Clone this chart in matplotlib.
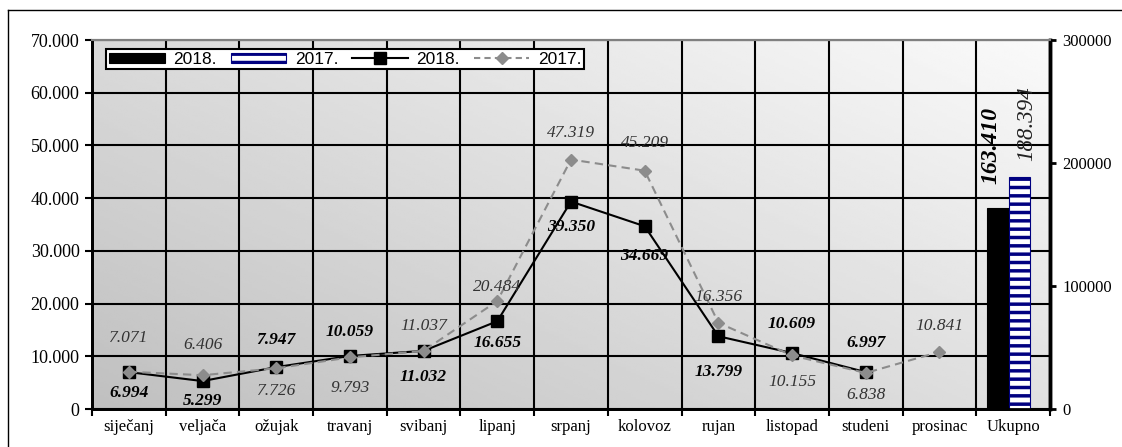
import numpy as np
import matplotlib
matplotlib.use('Agg')
import matplotlib.pyplot as plt
from matplotlib.lines import Line2D
from matplotlib.ticker import FuncFormatter, MultipleLocator, FixedLocator

### Data
months = ['siječanj', 'veljača', 'ožujak', 'travanj', 'svibanj', 'lipanj',
          'srpanj', 'kolovoz', 'rujan', 'listopad', 'studeni', 'prosinac']
categories = months + ['Ukupno']
values_2018 = [6994, 5299, 7947, 10059, 11032, 16655, 39350, 34669, 13799, 10609, 6997]
values_2017 = [7071, 6406, 7726, 9793, 11037, 20484, 47319, 45209, 16356, 10155, 6838, 10841]
total_2018 = 163410
total_2017 = 188394

### Label placement (pixels, negative = above the point)
dy_2018 = [21, 20, -27, -24, 26, 22, 25, 30, 36, -29, -29]
dy_2017 = [-34, -30, 23, 31, -25, -14, -27, -28, -26, 27, 22, -26]

plt.rcParams['font.family'] = ['Liberation Serif', 'DejaVu Serif']
plt.rcParams['hatch.linewidth'] = 2.5

fig = plt.figure(figsize=(11.22, 4.47), dpi=100)
ax = fig.add_axes([92 / 1122, 38 / 447, 958 / 1122, 369 / 447])
ax2 = ax.twinx()

### Gradient background
gx, gy = np.meshgrid(np.linspace(0, 1, 200), np.linspace(0, 1, 200))
grad = 0.75 + 0.23 * (0.55 * gx + 0.45 * gy)
ax.imshow(grad, cmap='gray', vmin=0, vmax=1, origin='lower', aspect='auto',
          extent=[0, 1, 0, 1], transform=ax.transAxes, zorder=0)

x = np.arange(len(categories))
ax.set_xlim(-0.5, len(categories) - 0.5)
ax.set_ylim(0, 70000)
ax2.set_ylim(0, 300000)

### Lines
ax.plot(x[:len(values_2018)], values_2018, color='black', lw=1.5, marker='s',
        ms=8, zorder=4)
ax.plot(x[:len(values_2017)], values_2017, color='#8c8c8c', lw=1.5, ls=(0, (4, 2.5)),
        marker='D', ms=6.5, zorder=5)

fmt = lambda v: '{:,.0f}'.format(v).replace(',', '.')
for i, v in enumerate(values_2018):
    ax.annotate(fmt(v), (x[i], v), xytext=(0, -dy_2018[i]), textcoords='offset pixels',
                ha='center', va='center', fontsize=12.5, fontweight='bold',
                fontstyle='italic', color='black', zorder=6)
for i, v in enumerate(values_2017):
    ax.annotate(fmt(v), (x[i], v), xytext=(0, -dy_2017[i]), textcoords='offset pixels',
                ha='center', va='center', fontsize=12.5, fontstyle='italic',
                color='#333333', zorder=6)

### Total bars on the right axis
w = 0.29
xc = x[-1] - 0.06
b1 = ax2.bar(xc - w / 2, total_2018, width=w, color='black', edgecolor='black', lw=0.8)
b2 = ax2.bar(xc + w / 2, total_2017, width=w, color='white', edgecolor='#000080',
             hatch='--', lw=0.8)
ax2.annotate(fmt(total_2018), (xc - w / 2, total_2018), xytext=(-7, 24),
             textcoords='offset pixels', rotation=90, ha='center', va='bottom',
             fontsize=17, fontweight='bold', fontstyle='italic')
ax2.annotate(fmt(total_2017), (xc + w / 2, total_2017), xytext=(7, 16),
             textcoords='offset pixels', rotation=90, ha='center', va='bottom',
             fontsize=16.5, fontstyle='italic', color='#222222')

### Grid and axes
ax.yaxis.set_major_locator(MultipleLocator(10000))
ax.yaxis.set_major_formatter(FuncFormatter(lambda v, p: fmt(v)))
ax.set_xticks(x)
ax.set_xticklabels(categories)
ax.xaxis.set_minor_locator(FixedLocator(np.arange(-0.5, len(categories), 1)))
ax.grid(True, which='major', axis='y', color='black', lw=1.5, zorder=1)
ax.grid(True, which='minor', axis='x', color='black', lw=1.5, zorder=1)
ax.tick_params(axis='x', which='major', length=0, pad=7, labelsize=12)
ax.tick_params(axis='x', which='minor', length=5, width=1.5, direction='out')
ax.tick_params(axis='y', length=5, width=1.5, direction='out', labelsize=13, pad=4)

ax2.set_yticks([0, 100000, 200000, 300000])
ax2.yaxis.set_major_formatter(FuncFormatter(lambda v, p: '%d' % v))
ax2.tick_params(axis='y', length=4, width=2, direction='out', labelsize=12, pad=5)

for a in (ax, ax2):
    a.spines['top'].set_color('#808080')
    a.spines['top'].set_linewidth(1.5)
    a.spines['left'].set_linewidth(2)
    a.spines['bottom'].set_linewidth(2)
    a.spines['right'].set_linewidth(2.5)

### Legend
h3 = Line2D([], [], color='black', lw=1.5, marker='s', ms=8)
h4 = Line2D([], [], color='#8c8c8c', lw=1.5, ls=(0, (3, 2)), marker='D', ms=6.5)
leg = ax2.legend([b1, b2, h3, h4], ['2018.', '2017.', '2018.', '2017.'], ncol=4,
                 loc='upper left', bbox_to_anchor=(0.015, 0.975), borderaxespad=0,
                 prop={'family': 'Liberation Sans', 'size': 12.5},
                 handlelength=3.2, handleheight=0.5, handletextpad=0.5,
                 columnspacing=0.8, fancybox=False, framealpha=1,
                 edgecolor='black', borderpad=0.15)
leg.get_frame().set_linewidth(1.5)

### Outer border
fig.add_artist(Line2D([8 / 1122, 8 / 1122], [0, 1 - 10 / 447], color='black', lw=1,
                      transform=fig.transFigure))
fig.add_artist(Line2D([8 / 1122, 1], [1 - 10 / 447, 1 - 10 / 447], color='black', lw=1,
                      transform=fig.transFigure))

fig.savefig('out.png', dpi=100)
